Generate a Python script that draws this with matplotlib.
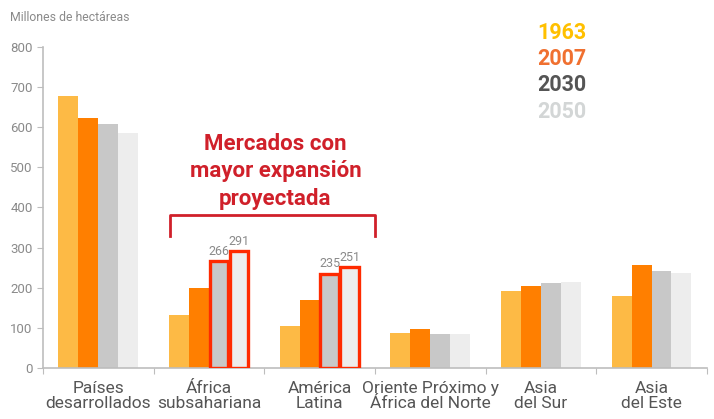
import matplotlib
matplotlib.use("Agg")
import matplotlib.pyplot as plt
import numpy as np

plt.rcParams["font.family"] = ["Roboto", "DejaVu Sans"]

regiones = ["Países\ndesarrollados", "África\nsubsahariana", "América\nLatina",
            "Oriente Próximo y\nÁfrica del Norte", "Asia\ndel Sur", "Asia\ndel Este"]
anios = ["1963", "2007", "2030", "2050"]
v1963 = [678, 132, 105, 87, 192, 179]
v2007 = [623, 200, 169, 97, 204, 257]
v2030 = [608, 266, 235, 85, 212, 242]
v2050 = [585, 291, 251, 85, 215, 237]
destacadas = [1, 2]

BAR = ["#FDBA45", "#FF7F00", "#C8C8C8", "#EDEDED"]
LEG = ["#FFC000", "#F07030", "#555555", "#D3D6D6"]
RED = "#FF2A00"; DARKRED = "#D0202A"; GRAY = "#8A8A8A"; AX = "#BDBDBD"

fig = plt.figure(figsize=(7.14, 4.19), dpi=100)
ax = fig.add_axes([0.0602, 0.1217, 0.9298, 0.7663])

x = np.arange(len(regiones))
w = 0.18
series = [v1963, v2007, v2030, v2050]
for k, vals in enumerate(series):
    off = (k - 1.5) * w
    ax.bar(x + off, vals, w, color=BAR[k], zorder=2)
    if k >= 2:
        for i in destacadas:
            ax.bar(x[i] + off, vals[i], w * 0.93, color="none", edgecolor=RED,
                   lw=2.4, zorder=3)
            ax.text(x[i] + off, vals[i] + 8, str(vals[i]), ha="center", va="bottom",
                    color=GRAY, fontsize=9, zorder=4)

ax.set_xlim(-0.5, len(regiones) - 0.5)
ax.set_ylim(0, 800)
ax.set_yticks(range(0, 801, 100))
ax.set_xticks(np.arange(-0.5, len(regiones)), minor=False)
ax.set_xticklabels([])
ax.set_xticks(x, minor=True)
ax.set_xticklabels(regiones, minor=True, fontsize=12.5, color="#555555", linespacing=1.0)
ax.tick_params(axis="x", which="minor", length=0, pad=9)
ax.tick_params(axis="x", which="major", length=4, color=AX)
ax.tick_params(axis="y", length=4, color=AX, labelcolor=GRAY, labelsize=9.5)
for s in ["top", "right"]:
    ax.spines[s].set_visible(False)
for s in ["left", "bottom"]:
    ax.spines[s].set_color(AX)
    ax.spines[s].set_linewidth(1.2)

# corchete y rotulo
ax.plot([0.65, 0.65, 2.5, 2.5], [328, 380, 380, 328], color=DARKRED, lw=2,
        clip_on=False, zorder=4)
ax.text(1.6, 490, "Mercados con\nmayor expansión\nproyectada", ha="center",
        va="center", color=DARKRED, fontsize=16, fontweight="bold",
        linespacing=1.32)

# leyenda como texto
for k, a in enumerate(anios):
    fig.text(0.752, 0.921 - k * 0.0625, a, color=LEG[k], fontsize=15.5,
             fontweight="bold", ha="left", va="center")

fig.text(0.014, 0.958, "Millones de hectáreas", color=GRAY, fontsize=8.8,
         ha="left", va="center")

fig.savefig("out.png", dpi=100, facecolor="white")
